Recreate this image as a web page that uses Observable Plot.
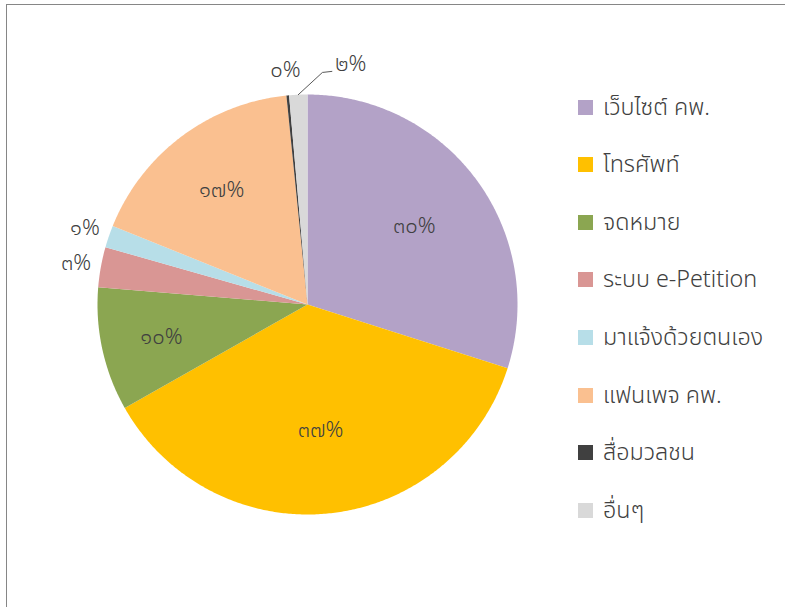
<!DOCTYPE html>
<html>
<head>
<meta charset="utf-8">
<script src="https://cdn.jsdelivr.net/npm/d3@7"></script>
<script src="https://cdn.jsdelivr.net/npm/@observablehq/plot@0.6"></script>
<style>
  html, body { margin: 0; padding: 0; background: #fff; }
  #wrap { position: relative; width: 785px; height: 607px; overflow: hidden; font-family: "Noto Sans Thai", "Noto Sans", sans-serif; font-weight: 300; }
  #frame { position: absolute; left: 6px; top: 4px; width: 800px; height: 700px; border-top: 1.5px solid #868686; border-left: 1.5px solid #868686; }
  #chart { position: absolute; left: 0; top: 0; }
  #legend { position: absolute; left: 578px; top: 96px; }
  .item { position: absolute; left: 0; height: 22px; white-space: nowrap; display: flex; align-items: center; color: #404040; font-size: 23.3px; font-weight: 300; }
  .sw { width: 15px; height: 15px; margin-right: 10px; flex: none; }
</style>
</head>
<body>
<div id="wrap">
  <div id="frame"></div>
  <div id="chart"></div>
  <div id="legend"></div>
</div>
<script>
// Data (percent shares, clockwise from 12 o'clock)
const categories = ["เว็บไซต์ คพ.", "โทรศัพท์", "จดหมาย", "ระบบ e-Petition", "มาแจ้งด้วยตนเอง", "แฟนเพจ คพ.", "สื่อมวลชน", "อื่นๆ"];
const values = [29.9, 36.9, 9.5, 3.1, 1.7, 17.3, 0.2, 1.4];
const valueLabels = ["๓๐%", "๓๗%", "๑๐%", "๓%", "๑%", "๑๗%", "๐%", "๒%"];
const colors = ["#B3A2C7", "#FFC000", "#8BA651", "#D99694", "#B7DEE8", "#FAC090", "#404040", "#D9D9D9"];

const total = d3.sum(values);
const polar = (a, r) => ({x: r * Math.sin(a), y: r * Math.cos(a)});

// slice polygons
const slicePts = [];
const labelPts = [];
let cum = 0;
values.forEach((v, i) => {
  const a0 = cum / total * 2 * Math.PI;
  const a1 = (cum + v) / total * 2 * Math.PI;
  cum += v;
  slicePts.push({cat: categories[i], x: 0, y: 0});
  const n = Math.max(2, Math.ceil((a1 - a0) / (Math.PI / 360)));
  for (let k = 0; k <= n; k++) {
    const p = polar(a0 + (a1 - a0) * k / n, 1);
    slicePts.push({cat: categories[i], x: p.x, y: p.y});
  }
  const mid = (a0 + a1) / 2;
  const inside = v >= 5;
  // larger slices get labels nearer the centre (best-fit style)
  const r = inside ? 0.75 - 0.004 * v : 1.12;
  const p = polar(mid, r);
  labelPts.push({cat: categories[i], text: valueLabels[i], x: p.x, y: p.y, mid, inside, last: i === values.length - 1});
});

// leader line for the last (small) slice, label moved right
const lastL = labelPts[labelPts.length - 1];
const s0 = polar(lastL.mid, 1.0);
const leader = [
  {x: s0.x, y: s0.y},
  {x: s0.x + 0.115, y: 1.105},
  {x: s0.x + 0.16, y: 1.11}
];
const lastLabel = [{x: s0.x + 0.25, y: 1.145, text: lastL.text}];

const chart = Plot.plot({
  width: 785,
  height: 607,
  axis: null,
  x: {domain: [-1, 1], range: [97, 517]},
  y: {domain: [-1, 1], range: [514, 94]},
  color: {domain: categories, range: colors},
  style: {fontFamily: "'Noto Sans Thai', 'Noto Sans', sans-serif", background: "transparent"},
  marks: [
    Plot.line(slicePts, {x: "x", y: "y", z: "cat", fill: "cat", stroke: "none", curve: "linear-closed"}),
    Plot.text(labelPts.filter(d => !d.last), {x: "x", y: "y", text: "text", fontSize: 22, fontWeight: 300, fill: "#404040"}),
    Plot.line(leader, {x: "x", y: "y", stroke: "#595959", strokeWidth: 1}),
    Plot.text(lastLabel, {x: "x", y: "y", text: "text", fontSize: 22, fontWeight: 300, fill: "#404040"})
  ]
});
document.getElementById("chart").appendChild(chart);

// legend
const legend = document.getElementById("legend");
categories.forEach((c, i) => {
  const it = document.createElement("div");
  it.className = "item";
  it.style.top = (i * 57.6) + "px";
  const sw = document.createElement("span");
  sw.className = "sw";
  sw.style.background = colors[i];
  const t = document.createElement("span");
  t.textContent = c;
  it.appendChild(sw);
  it.appendChild(t);
  legend.appendChild(it);
});
</script>
</body>
</html>
